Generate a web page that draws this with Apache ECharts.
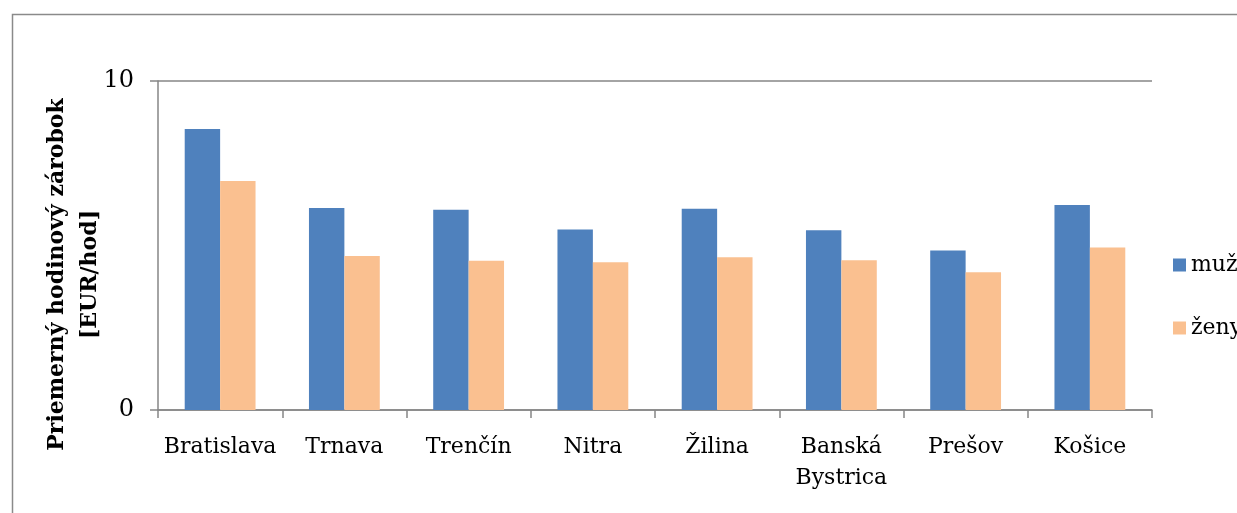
<!DOCTYPE html>
<html>
<head>
<meta charset="utf-8">
<script src="https://cdn.jsdelivr.net/npm/echarts@6/dist/echarts.min.js"></script>
<style>
html,body{margin:0;padding:0;background:#fff;}
#chart{width:1237px;height:513px;}
</style>
</head>
<body>
<div id="chart"></div>
<script>
var categories = ['Bratislava', 'Trnava', 'Trenčín', 'Nitra', 'Žilina', 'Banská\nBystrica', 'Prešov', 'Košice'];
var muzi = [8.54, 6.14, 6.09, 5.49, 6.12, 5.46, 4.85, 6.23];
var zeny = [6.96, 4.68, 4.54, 4.49, 4.64, 4.55, 4.19, 4.94];
var yTicks = [0, 10];

var font = 'DejaVu Serif';
var chart = echarts.init(document.getElementById('chart'));
chart.setOption({
  animation: false,
  backgroundColor: '#fff',
  graphic: [{
    type: 'rect',
    left: 10, top: 12,
    shape: { width: 1400, height: 700 },
    style: { fill: 'none', stroke: '#8a8a8a', lineWidth: 1.5 },
    silent: true
  }],
  grid: { left: 158, right: 85, top: 81, bottom: 103, containLabel: false },
  legend: {
    orient: 'vertical',
    left: 1168,
    top: 249,
    itemWidth: 13,
    itemHeight: 13,
    itemGap: 41,
    icon: 'rect',
    textStyle: { fontFamily: font, fontSize: 22, color: '#000' },
    data: ['muži', 'ženy']
  },
  xAxis: {
    type: 'category',
    data: categories,
    axisLine: { lineStyle: { color: '#868686', width: 1.5 } },
    axisTick: { show: true, length: 8, alignWithLabel: false, lineStyle: { color: '#868686', width: 1.5 } },
    axisLabel: { fontFamily: font, fontSize: 22, color: '#000', margin: 22, lineHeight: 31, interval: 0 }
  },
  yAxis: {
    type: 'value',
    min: yTicks[0], max: yTicks[yTicks.length - 1], interval: 10,
    name: 'Priemerný hodinový zárobok\n[EUR/hod]',
    nameLocation: 'middle',
    nameGap: 51,
    nameMoveOverlap: false,
    nameTextStyle: { fontFamily: font, fontSize: 22, fontWeight: 'bold', color: '#000', lineHeight: 33, padding: [0, 58, 0, 0] },
    axisLine: { show: true, lineStyle: { color: '#868686', width: 1.5 } },
    axisTick: { show: true, length: 8, inside: false, lineStyle: { color: '#868686', width: 1.5 } },
    axisLabel: { fontFamily: font, fontSize: 24, color: '#000', margin: 24 },
    splitLine: { show: true, lineStyle: { color: '#868686', width: 1.5 } }
  },
  series: [
    { name: 'muži', type: 'bar', data: muzi, barGap: '0%', barCategoryGap: '43%',
      itemStyle: { color: '#4F81BD' } },
    { name: 'ženy', type: 'bar', data: zeny, barGap: '0%', barCategoryGap: '43%',
      itemStyle: { color: '#FAC090' } }
  ]
});
</script>
</body>
</html>
